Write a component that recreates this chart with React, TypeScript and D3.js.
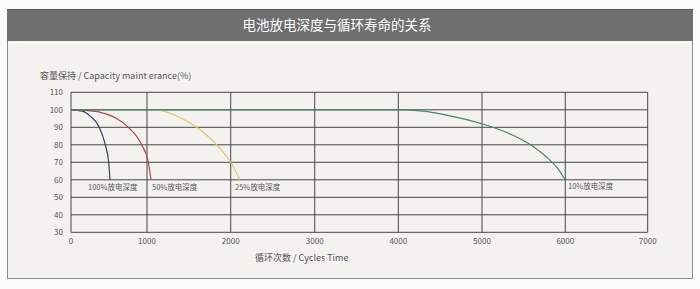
import React from "react";
import * as d3 from "d3";

const W = 700;
const H = 289;

const title = "电池放电深度与循环寿命的关系";
const yTitle = "容量保持 / Capacity maint erance(%)";
const xTitle = "循环次数 / Cycles Time";

const xTicks = [0, 1000, 2000, 3000, 4000, 5000, 6000, 7000];
const yTicks = [30, 40, 50, 60, 70, 80, 90, 100, 110];

const cycles100 = [0, 150, 250, 372, 451, 496, 513];
const cap100 = [100, 99.2, 96.5, 90, 80, 70, 60];

const cycles50 = [0, 200, 400, 601, 754, 930, 1016, 1048];
const cap50 = [100, 99.6, 98.4, 95, 90, 80, 70, 60];

const cycles25 = [1150, 1356, 1594, 1833, 2000, 2111];
const cap25 = [100, 96.5, 90, 80, 70, 60];

const cycles10 = [0, 2000, 4000, 4300, 4574, 5000, 5378, 5600, 5776, 5900, 6000];
const cap10 = [100, 100, 100, 99.2, 97, 92, 85.3, 79.5, 73, 67, 60];

const seriesNames = ["100%放电深度", "50%放电深度", "25%放电深度", "10%放电深度"];
const seriesColors = ["#3a3d66", "#b5454b", "#e3c46a", "#3c8a63"];

export default function App() {
  const x = d3
    .scaleLinear()
    .domain([0, 1000, 2000, 3000, 4000, 5000, 6000, 7000])
    .range([71, 147, 230.7, 314.7, 398.3, 482, 565.3, 647.7]);
  const y = d3.scaleLinear().domain([30, 110]).range([232.3, 92.3]);

  const line = d3
    .line<[number, number]>()
    .x((d) => x(d[0]))
    .y((d) => y(d[1]))
    .curve(d3.curveMonotoneX);

  const series = [
    { xs: cycles100, ys: cap100 },
    { xs: cycles50, ys: cap50 },
    { xs: cycles25, ys: cap25 },
    { xs: cycles10, ys: cap10 },
  ];
  const labelPos = [
    { x: 88, y: 190 },
    { x: 152, y: 190 },
    { x: 235, y: 190 },
    { x: 568, y: 189 },
  ];

  const font = "'Noto Sans CJK SC', 'Noto Sans', sans-serif";

  return (
    <svg
      width={W}
      height={H}
      style={{ position: "absolute", left: 0, top: 0, display: "block" }}
      fontFamily={font}
    >
      <rect x={0} y={0} width={W} height={H} fill="#fbfbfa" />
      <rect x={7.5} y={9.5} width={685} height={269} fill="#f4f2ef" stroke="#8a8a8a" />
      <rect x={7} y={9} width={686} height={32} fill="#6f6f6f" />
      <line x1={7} x2={693} y1={9.5} y2={9.5} stroke="#5e5e5e" />
      <line x1={8} x2={692} y1={42.5} y2={42.5} stroke="#fdfdfc" />
      <text x={337} y={30} textAnchor="middle" fill="#ffffff" fontSize={13.5}>
        {title}
      </text>

      {yTicks.map((t) => (
        <g key={"y" + t}>
          <line x1={71} x2={647.7} y1={y(t)} y2={y(t)} stroke="#464646" strokeWidth={1} />
          <text x={63} y={y(t) + 3} textAnchor="end" fontSize={8} fill="#555">
            {t}
          </text>
        </g>
      ))}
      {xTicks.map((t) => (
        <g key={"x" + t}>
          <line x1={x(t)} x2={x(t)} y1={y(110)} y2={y(30)} stroke="#464646" strokeWidth={1} />
          <text x={x(t)} y={244} textAnchor="middle" fontSize={8} fill="#555">
            {t}
          </text>
        </g>
      ))}

      {series.map((s, i) => (
        <path
          key={"s" + i}
          d={line(s.xs.map((v, j) => [v, s.ys[j]] as [number, number])) || ""}
          fill="none"
          stroke={seriesColors[i]}
          strokeWidth={1.2}
        />
      ))}

      {seriesNames.map((n, i) => (
        <text key={"l" + i} x={labelPos[i].x} y={labelPos[i].y} fontSize={7.5} fill="#555">
          {n}
        </text>
      ))}

      <text x={40} y={79} fontSize={9} fill="#555">
        {yTitle}
      </text>
      <text x={255} y={261} fontSize={9} fill="#555">
        {xTitle}
      </text>
    </svg>
  );
}
